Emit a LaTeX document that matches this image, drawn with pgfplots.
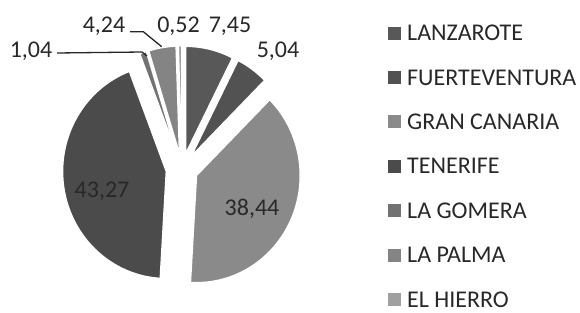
\documentclass[border=0pt]{standalone}
\usepackage{fontspec}
\setmainfont{Carlito}
\usepackage{pgfplots}
\pgfplotsset{compat=1.18}
\definecolor{cLZ}{RGB}{88,88,88}
\definecolor{cFV}{RGB}{82,82,82}
\definecolor{cGC}{RGB}{138,138,138}
\definecolor{cTF}{RGB}{75,75,75}
\definecolor{cLG}{RGB}{114,114,114}
\definecolor{cLP}{RGB}{132,132,132}
\definecolor{cEH}{RGB}{160,160,160}
\definecolor{txt}{RGB}{40,40,40}
\newcommand\Rx{103.5}
\newcommand\Ry{107}
\newcommand\cx{182}
\newcommand\cy{143}
\newcommand\expl{16}
\def\cum{0}
\newcommand\slice[3]{%
  \pgfmathsetmacro\sa{90-3.6*\cum}%
  \pgfmathsetmacro\newcum{\cum+#1}%
  \pgfmathsetmacro\ea{90-3.6*\newcum}%
  \global\let\cum\newcum
  \pgfmathsetmacro\ma{(\sa+\ea)/2}%
  \pgfmathsetmacro\ax{\cx+\expl*cos(\ma)}%
  \pgfmathsetmacro\ay{\cy+\expl*sin(\ma)}%
  \edef\tmp{\noexpand\addplot[fill=#2, draw=white, line width=1.2bp, domain=\ea:\sa, samples=90] ({\ax+\Rx*cos(x)},{\ay+\Ry*sin(x)}) -- (axis cs:\ax,\ay) -- cycle;\noexpand\addlegendentry{#3}}%
  \tmp
}
\begin{document}
\begin{tikzpicture}[font=\fontsize{24bp}{28bp}\selectfont]
\begin{axis}[x=1bp, y=1bp, xmin=0, xmax=580, ymin=0, ymax=312,
  hide axis, clip=false,
  legend image code/.code={\path[#1, draw=none] (0bp,1.2bp) rectangle (13bp,14.2bp); \path (0bp,0bp) -- (19bp,0bp);},
  legend style={at={(0.6672,0.9191)}, anchor=north west, draw=none, fill=none,
    inner sep=0pt, outer sep=0pt, row sep=28.3bp, text=txt,
    font=\fontsize{24bp}{28bp}\selectfont,
    nodes={inner sep=0pt, outer sep=0pt, text height=15.5bp, text depth=0bp, anchor=base west}},
  legend cell align=left]
\path (axis cs:0,0) rectangle (axis cs:580,312);
\slice{7.45}{cLZ}{LANZAROTE}
\slice{5.04}{cFV}{FUERTEVENTURA}
\slice{38.44}{cGC}{GRAN CANARIA}
\slice{43.27}{cTF}{TENERIFE}
\slice{1.04}{cLG}{LA GOMERA}
\slice{4.24}{cLP}{LA PALMA}
\slice{0.52}{cEH}{EL HIERRO}
\draw[line width=1.3bp, black!85] (axis cs:57,259) -- (axis cs:142,260) -- (axis cs:147,256);
\draw[line width=1.3bp, black!85] (axis cs:130,280.3) -- (axis cs:143.3,280.3) -- (axis cs:161.7,265.3);
\node[anchor=base, text=txt, inner sep=0pt] at (axis cs:102,114.3) {43,27};
\node[anchor=base, text=txt, inner sep=0pt] at (axis cs:252,96.3) {38,44};
\node[anchor=base, text=txt, inner sep=0pt] at (axis cs:230,279.3) {7,45};
\node[anchor=base, text=txt, inner sep=0pt] at (axis cs:178.5,279.3) {0,52};
\node[anchor=base, text=txt, inner sep=0pt] at (axis cs:104,279.3) {4,24};
\node[anchor=base, text=txt, inner sep=0pt] at (axis cs:278,254.8) {5,04};
\node[anchor=base, text=txt, inner sep=0pt] at (axis cs:31,254.8) {1,04};
\end{axis}
\end{tikzpicture}
\end{document}
